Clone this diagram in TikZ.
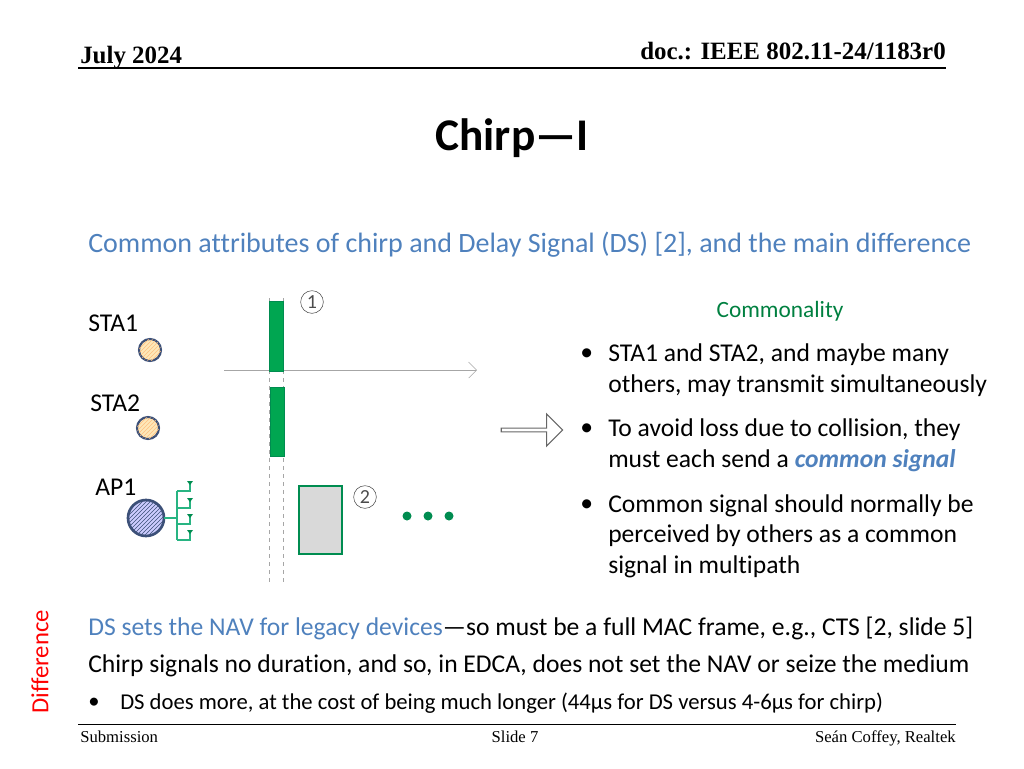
\documentclass[tikz,border=0pt]{standalone}
\usepackage{fontspec}
\setmainfont[Ligatures=NoCommon]{Carlito}
\newfontfamily\timesf{Liberation Serif}
\usetikzlibrary{patterns,arrows.meta,shapes.arrows}
\definecolor{sub}{RGB}{79,129,189}
\definecolor{grn}{RGB}{0,166,81}
\definecolor{dgrn}{RGB}{0,140,80}
\definecolor{tgrn}{RGB}{40,180,130}
\definecolor{cgreen}{RGB}{0,128,64}
\definecolor{edge}{RGB}{60,80,120}
\tikzset{
 body/.style={font=\fontsize{19.2}{23}\selectfont,anchor=west,inner sep=0},
 hdr/.style={font=\timesf\bfseries\fontsize{18.7}{22}\selectfont,inner sep=0},
 foot/.style={font=\timesf\fontsize{12.5}{15}\selectfont,inner sep=0},
 circnum/.style={circle,draw=black!70,thin,minimum size=17pt,inner sep=0,font=\fontsize{15}{15}\selectfont\color{black!70}},
 dline/.style={gray!70,dashed,thin},
}
\begin{document}
\begin{tikzpicture}[x=0.75pt,y=-0.75pt]
\useasboundingbox (0,0) rectangle (1024,768);
% header
\node[hdr,anchor=base west] (july) at (80,63) {July 2024};
\node[hdr,anchor=base east] (doc) at (946,59) {doc.: IEEE 802.11-24/1183r0};
\draw[thick] (78,68) -- (946,68);
\node[font=\bfseries\fontsize{34}{38}\selectfont,inner sep=0] (title) at (512,138) {Chirp—I};
\node[body,text=sub,font=\fontsize{21}{25}\selectfont] (subt) at (88,245) {Common attributes of chirp and Delay Signal (DS) [2], and the main difference};
% diagram
\draw[dline] (269,298) -- (269,582);
\draw[dline] (283,298) -- (283,582);
\draw[gray!70,-{Straight Barb[length=6pt]}] (224,370) -- (477,370);
\fill[grn,draw=dgrn] (269,301) rectangle (283,371);
\fill[grn,draw=dgrn] (270,387) rectangle (284,456);
\node[circnum] (c1) at (312,302) {1};
\node[circnum] (c2) at (365,497) {2};
\node[body] (sta1) at (88,323) {STA1};
\node[body] (sta2) at (90,403) {STA2};
\node[body] (ap1) at (95,487) {AP1};
\draw[edge,line width=1.6pt,fill=yellow!35!orange!25,postaction={pattern=north east lines,pattern color=orange!50}] (150,350) circle (11);
\draw[edge,line width=1.6pt,fill=yellow!35!orange!25,postaction={pattern=north east lines,pattern color=orange!50}] (148,428) circle (11);
\draw[edge,line width=2pt,fill=blue!20,postaction={pattern=north east lines,pattern color=edge}] (146,518) circle (18);
\draw[tgrn,thick] (164,518) -- (177,518) (177,491) -- (177,540);
\foreach \yy in {491,508,524,540}{
 \draw[tgrn,thick] (177,\yy) -- (190,\yy) -- (190,\yy-7);
 \fill[dgrn] (187,\yy-10) -- (193,\yy-10) -- (190,\yy-6) -- cycle;
}
\draw[dgrn,line width=2pt,fill=gray!30] (299,486) rectangle (342,554);
\foreach \xx in {407,428,449} \fill[dgrn] (\xx,516) circle (4.5);
\node[single arrow,draw=black!60,thick,minimum width=24pt,single arrow head extend=3pt,minimum height=46pt,inner sep=0] (barrow) at (531,430) {};
% commonality
\node[font=\fontsize{17.5}{20}\selectfont,text=cgreen,inner sep=0] (comm) at (780,311) {Commonality};
\foreach \yy/\tx in {355/{STA1 and STA2, and maybe many},386/{others, may transmit simultaneously},430/{To avoid loss due to collision, they},506/{Common signal should normally be},536/{perceived by others as a common},567/{signal in multipath}}
 \node[body] at (608,\yy) {\tx};
\node[body] (b2) at (608,461) {must each send a \textcolor{sub}{\bfseries\itshape common signal}};
\foreach \yy in {355,430,506} \node[body] at (580,\yy) {•};
% difference
\node[rotate=90,text=red,font=\fontsize{18.5}{20}\selectfont,inner sep=0] (diff) at (40,662) {Difference};
\node[body] (l1) at (88,628) {\textcolor{sub}{DS sets the NAV for legacy devices}—so must be a full MAC frame, e.g., CTS [2, slide 5]};
\node[body] (l2) at (88,666) {Chirp signals no duration, and so, in EDCA, does not set the NAV or seize the medium};
\node[body,font=\fontsize{17}{20}\selectfont] (l3b) at (88,703) {•};
\node[body,font=\fontsize{17}{20}\selectfont] (l3) at (120,703) {DS does more, at the cost of being much longer (44µs for DS versus 4-6µs for chirp)};
% footer
\draw[thin] (78,724) -- (956,724);
\node[foot,anchor=base west] (sub) at (80,742) {Submission};
\node[foot,anchor=base] (slide) at (515,742) {Slide 7};
\node[foot,anchor=base east] (auth) at (956,742) {Seán Coffey, Realtek};
\end{tikzpicture}
\end{document}
